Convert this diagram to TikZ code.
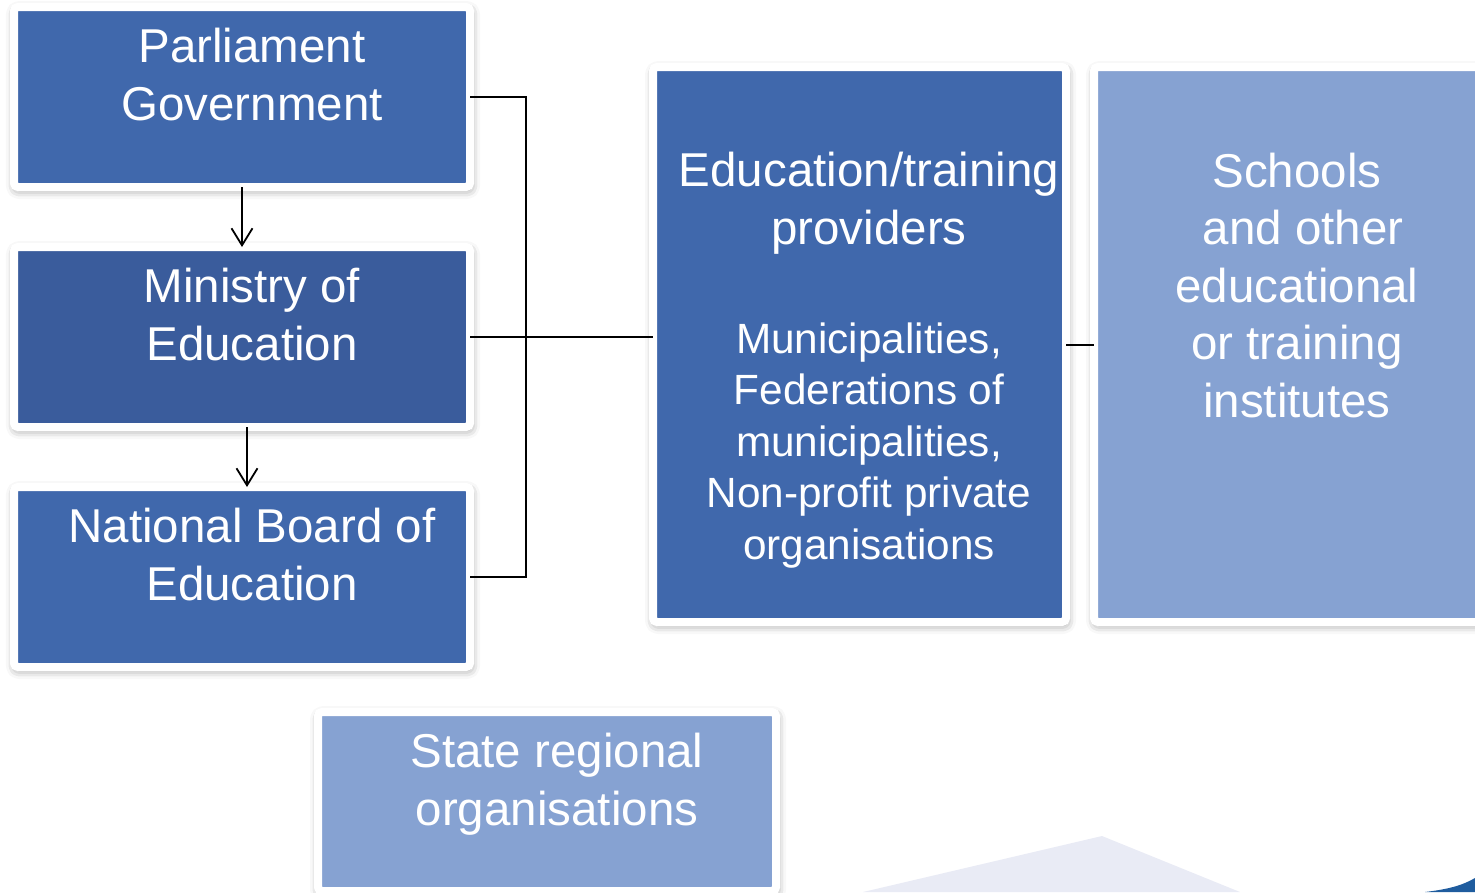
\documentclass[tikz,border=0pt]{standalone}
\usepackage{fontspec}
\setmainfont{Liberation Sans}
\usetikzlibrary{arrows.meta,shadows.blur}
\definecolor{boxblue}{RGB}{64,104,172}
\definecolor{minblue}{RGB}{58,92,156}
\definecolor{paleblue}{RGB}{134,162,210}
\definecolor{haze}{RGB}{233,235,245}
\definecolor{deepblue}{RGB}{31,92,158}
\begin{document}
\begin{tikzpicture}[x=1pt,y=-1pt,
  panel/.style={draw=white, line width=8pt, rounded corners=4pt,
    inner sep=0pt, outer sep=0pt,
    blur shadow={shadow xshift=1pt, shadow yshift=-3pt,
      shadow blur radius=9pt, shadow opacity=45}},
  bigtext/.style={text=white, align=center, anchor=base, inner sep=0pt,
    font=\fontsize{47.5}{57.5}\selectfont},
  smalltext/.style={text=white, align=center, anchor=base, inner sep=0pt,
    font=\fontsize{42.3}{51.5}\selectfont},
  link/.style={draw=black, line width=2pt},
  flow/.style={draw=black, line width=1.8pt,
    -{Straight Barb[length=17pt,width=21pt,line width=1.8pt]}}]
\useasboundingbox (0,0) rectangle (1475,892);
\clip (0,0) rectangle (1475,892);

% background accents at the lower edge
\fill[haze] (863,892) -- (1102,836) -- (1240,892) -- cycle;
\fill[deepblue] (1425,892) .. controls (1450,889) and (1463,885) .. (1475,878) -- (1475,892) -- cycle;

% boxes
\node[panel, fill=boxblue, minimum width=456, minimum height=180] (parl) at (242,97) {};
\node[panel, fill=minblue, minimum width=456, minimum height=180] (min) at (242,337) {};
\node[panel, fill=boxblue, minimum width=456, minimum height=180] (nbe) at (242,577) {};
\node[panel, fill=boxblue, minimum width=413, minimum height=555] (prov) at (859.5,344.5) {};
\node[panel, fill=paleblue, minimum width=406, minimum height=555] (sch) at (1297,344.5) {};
\node[panel, fill=paleblue, minimum width=458, minimum height=179] (reg) at (547,801.5) {};

% labels (anchored at the baseline of their last line)
\node[bigtext] (parlT) at (252,120) {Parliament\\Government};
\node[bigtext] (minT) at (252,360) {Ministry of\\Education};
\node[bigtext] (nbeT) at (252,600) {National Board of\\Education};
\node[bigtext] (regT) at (557,825) {State regional\\organisations};
\node[bigtext] (provT) at (869,244) {Education/training\\providers};
\node[smalltext] (provS) at (869,559) {Municipalities,\\Federations of\\municipalities,\\Non-profit private\\organisations};
\node[bigtext] (schT) at (1297,417) {Schools\\\hspace*{12pt}and other\\educational\\or training\\institutes};

% connectors
\draw[link] (parl.east) -- ++(56,0) |- (nbe.east);
\draw[link] (min.east) -- (min.east -| prov.west);
\draw[link] (prov.east) -- (sch.west);
\draw[flow] (parl.south) -- (min.north);
\draw[flow] ([xshift=5pt]min.south) -- ([xshift=5pt]nbe.north);
\end{tikzpicture}
\end{document}
